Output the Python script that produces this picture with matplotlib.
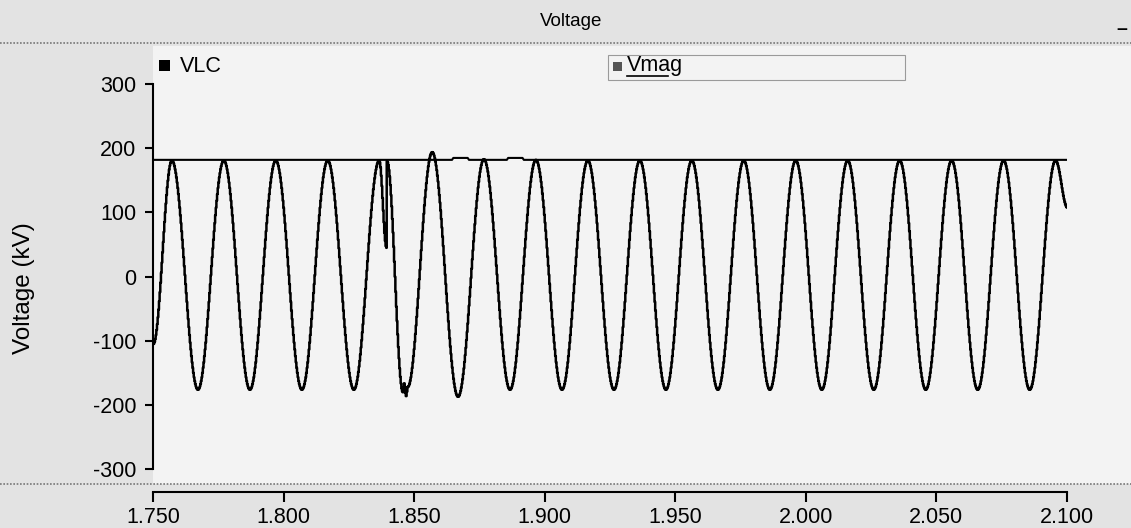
import matplotlib
matplotlib.use("Agg")
import matplotlib.pyplot as plt
import numpy as np

plt.rcParams['font.family'] = ['Liberation Sans', 'DejaVu Sans']

# turning points of VLC (time in s, voltage in kV)
vlc_t = [1.7500, 1.7571, 1.7671, 1.7770, 1.7870, 1.7969, 1.8069, 1.8168, 1.8268,
         1.8365, 1.8393, 1.8395, 1.8456, 1.8461, 1.8468, 1.8474, 1.8568, 1.8667,
         1.8766, 1.8866, 1.8965, 1.9065, 1.9164, 1.9264, 1.9363, 1.9463, 1.9562,
         1.9662, 1.9761, 1.9861, 1.9960, 2.0060, 2.0159, 2.0259, 2.0358, 2.0458,
         2.0557, 2.0657, 2.0756, 2.0856, 2.0955, 2.1000]
vlc_v = [-105, 181, -176, 181, -176, 181, -176, 181, -176,
         181, 45, 180, -180, -166, -186, -172, 194, -187,
         183, -176, 182, -176, 181, -176, 181, -176, 181,
         -176, 181, -176, 181, -176, 181, -176, 181, -176,
         181, -176, 181, -176, 181, 108]

# Vmag (kV)
vmag_t = [1.750, 1.8645, 1.8650, 1.8705, 1.8710, 1.8855, 1.8860, 1.8915, 1.8920, 2.100]
vmag_v = [182, 182, 185, 185, 182, 182, 185, 185, 182, 182]

y_ticks = [-300, -200, -100, 0, 100, 200, 300]
x_ticks = [1.750, 1.800, 1.850, 1.900, 1.950, 2.000, 2.050, 2.100]

W, H = 1131, 528


def fx(px):
    return px / W


def fy(py):
    return 1 - py / H


# rebuild the trace between turning points, sampled like the recorder
sample = 0.00025
t_all, v_all = [], []
for i in range(len(vlc_t) - 1):
    t0, t1 = vlc_t[i], vlc_t[i + 1]
    n = max(int(round((t1 - t0) / sample)), 1)
    s = np.arange(n) / n
    t_all.extend(t0 + (t1 - t0) * s)
    v_all.extend(vlc_v[i] + (vlc_v[i + 1] - vlc_v[i]) * (1 - np.cos(np.pi * s)) / 2)
t_all.append(vlc_t[-1])
v_all.append(vlc_v[-1])

fig = plt.figure(figsize=(W / 100, H / 100), dpi=100, facecolor='#e3e3e3')

# light plot region
fig.patches.append(plt.Rectangle((fx(153), fy(484)), fx(W - 153), fy(46) - fy(484),
                                 transform=fig.transFigure, facecolor='#f3f3f3',
                                 edgecolor='none', zorder=-5))

ax = fig.add_axes([fx(153), fy(469.3), fx(1067 - 153), (469.3 - 84.1) / H])
ax.set_facecolor('none')
ax.step(t_all, v_all, where='post', color='black', linewidth=1.8, zorder=3)
ax.plot(vmag_t, vmag_v, color='black', linewidth=1.5, zorder=2)
ax.set_xlim(1.750, 2.100)
ax.set_ylim(-300, 300)
ax.set_yticks(y_ticks)
ax.set_yticklabels([str(v) for v in y_ticks], fontsize=15.5)
ax.tick_params(axis='y', length=6, width=1.5, pad=6)
ax.set_xticks([])
for side in ['top', 'right', 'bottom']:
    ax.spines[side].set_visible(False)
ax.spines['left'].set_linewidth(1.5)
ax.set_ylabel('Voltage (kV)', fontsize=17.5)
ax.yaxis.set_label_coords(-0.129, 0.47)

# separate x-axis strip
axx = fig.add_axes([fx(153), fy(492), fx(1067 - 153), 0.0001])
axx.set_facecolor('none')
axx.set_xlim(1.750, 2.100)
axx.set_yticks([])
axx.set_xticks(x_ticks)
axx.set_xticklabels(['%.3f' % v for v in x_ticks], fontsize=15.5)
axx.tick_params(axis='x', length=7, width=1.5, pad=4)
for side in ['top', 'right', 'left']:
    axx.spines[side].set_visible(False)
axx.spines['bottom'].set_linewidth(1.5)

# separators
fig.add_artist(plt.Line2D([0, 1], [fy(43), fy(43)], color='#777777', linewidth=1.2,
                          linestyle=(0, (1, 1))))
fig.add_artist(plt.Line2D([0, 1], [fy(484), fy(484)], color='#777777', linewidth=1.2,
                          linestyle=(0, (1, 1))))

# title and corner mark
fig.text(fx(571), fy(21), 'Voltage', fontsize=13.5, ha='center', va='center')
fig.text(fx(1122), fy(30), '–', fontsize=14, ha='center', va='center', fontweight='bold')

# legend
fig.patches.append(plt.Rectangle((fx(159), fy(71)), fx(11), fy(60) - fy(71),
                                 transform=fig.transFigure, facecolor='black'))
fig.text(fx(180), fy(66), 'VLC', fontsize=15.5, ha='left', va='center')
fig.patches.append(plt.Rectangle((fx(608), fy(80)), fx(905 - 608), fy(55) - fy(80),
                                 transform=fig.transFigure, facecolor='none',
                                 edgecolor='#9a9a9a', linewidth=0.8))
fig.patches.append(plt.Rectangle((fx(613), fy(71)), fx(9), fy(62) - fy(71),
                                 transform=fig.transFigure, facecolor='#555555'))
fig.text(fx(627), fy(66), 'Vmag', fontsize=15.5, ha='left', va='center')
fig.add_artist(plt.Line2D([fx(627), fx(668)], [fy(76), fy(76)], color='black', linewidth=1.2))

fig.savefig('out.png', dpi=100, facecolor=fig.get_facecolor())
